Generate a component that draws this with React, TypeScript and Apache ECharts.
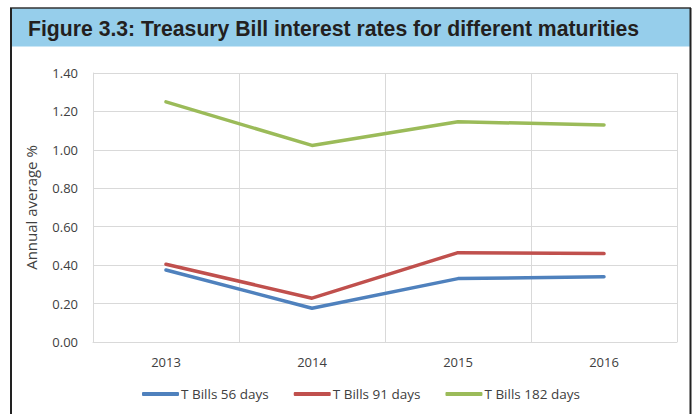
import React, { useEffect, useRef } from "react";
import * as echarts from "echarts";

const years = ["2013", "2014", "2015", "2016"];
const tBills56 = [0.375, 0.176, 0.33, 0.34];
const tBills91 = [0.405, 0.228, 0.465, 0.46];
const tBills182 = [1.25, 1.023, 1.146, 1.13];
const seriesNames = ["T Bills 56 days", "T Bills 91 days", "T Bills 182 days"];
const titleText = "Figure 3.3: Treasury Bill interest rates for different maturities";
const yAxisName = "Annual average %";

export default function App() {
  const ref = useRef<HTMLDivElement>(null);
  useEffect(() => {
    if (!ref.current) return;
    const chart = echarts.init(ref.current, null, { renderer: "svg" });
    const lineStyle = (c: string) => ({ color: c, width: 3.5, cap: "round" as const, join: "round" as const });
    const font = "'Open Sans', sans-serif";
    chart.setOption({
      animation: false,
      backgroundColor: "#fff",
      graphic: [
        { type: "rect", shape: { x: 11, y: 8, width: 679, height: 38.5 }, style: { fill: "#96CEEB" } },
        { type: "line", shape: { x1: 10, y1: 8, x2: 691, y2: 8 }, style: { stroke: "#333", lineWidth: 1.5 } },
        { type: "line", shape: { x1: 11, y1: 8, x2: 11, y2: 414 }, style: { stroke: "#222", lineWidth: 2 } },
        { type: "line", shape: { x1: 690.5, y1: 8, x2: 690.5, y2: 414 }, style: { stroke: "#222", lineWidth: 2 } },
        {
          type: "text",
          x: 28,
          y: 28,
          style: {
            text: titleText,
            font: "bold 21.2px 'Liberation Sans Narrow', 'Liberation Sans', Arial, sans-serif",
            fill: "#231F20",
            verticalAlign: "middle",
          },
        },
      ],
      legend: {
        bottom: 8,
        left: 137,
        itemWidth: 37,
        itemHeight: 4,
        itemGap: 25,
        icon: "roundRect",
        textStyle: { fontFamily: font, fontSize: 13.5, color: "#404040", padding: [0, 0, 0, -3] },
        data: seriesNames,
      },
      grid: { left: 93, right: 17, top: 73, bottom: 72 },
      xAxis: {
        type: "category",
        data: years,
        boundaryGap: true,
        axisLine: { show: true, lineStyle: { color: "#D9D9D9", width: 1 } },
        axisTick: { show: false },
        splitLine: { show: true, lineStyle: { color: "#D9D9D9", width: 1 } },
        axisLabel: { color: "#404040", fontSize: 13, fontFamily: font, margin: 13 },
      },
      yAxis: {
        type: "value",
        min: 0,
        max: 1.4,
        interval: 0.2,
        name: yAxisName,
        nameLocation: "middle",
        nameGap: 55,
        nameTextStyle: { color: "#404040", fontSize: 15, fontFamily: font },
        axisLine: { show: true, lineStyle: { color: "#D9D9D9" } },
        axisTick: { show: false },
        splitLine: { lineStyle: { color: "#D9D9D9", width: 1 } },
        axisLabel: {
          color: "#404040",
          fontSize: 13,
          fontFamily: font,
          margin: 15,
          formatter: (v: number) => v.toFixed(2),
        },
      },
      series: [
        { name: seriesNames[0], type: "line", data: tBills56, color: "#4F81BD", symbol: "none", lineStyle: lineStyle("#4F81BD") },
        { name: seriesNames[1], type: "line", data: tBills91, color: "#C0504D", symbol: "none", lineStyle: lineStyle("#C0504D") },
        { name: seriesNames[2], type: "line", data: tBills182, color: "#9BBB59", symbol: "none", lineStyle: lineStyle("#9BBB59") },
      ],
    });
    return () => chart.dispose();
  }, []);
  return <div ref={ref} style={{ position: "fixed", left: 0, top: 0, width: 694, height: 414 }} />;
}
